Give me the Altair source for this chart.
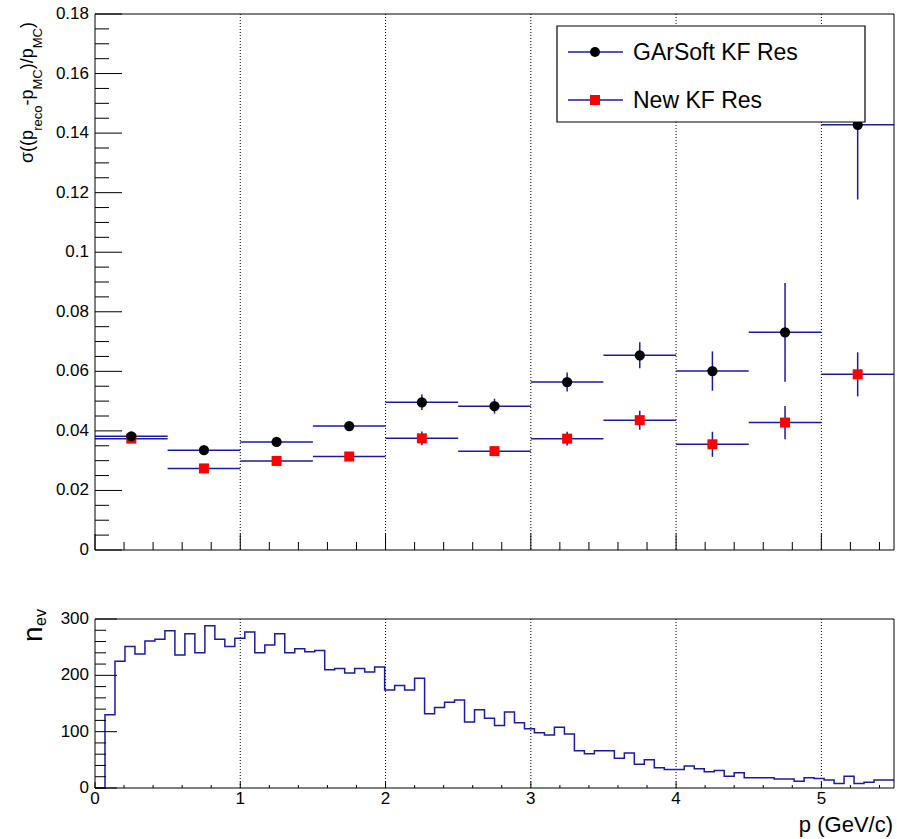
import altair as alt
import pandas as pd

# ---------------- data ----------------
p_center = [0.25, 0.75, 1.25, 1.75, 2.25, 2.75, 3.25, 3.75, 4.25, 4.75, 5.25]
p_halfwidth = 0.25
garsoft_res = [0.0382, 0.0335, 0.0363, 0.0416, 0.0496, 0.0483, 0.0564, 0.0654, 0.0601, 0.0731, 0.1428]
garsoft_err = [0.0010, 0.0010, 0.0010, 0.0012, 0.0026, 0.0025, 0.0032, 0.0044, 0.0066, 0.0166, 0.0251]
newkf_res = [0.0374, 0.0274, 0.0299, 0.0314, 0.0375, 0.0332, 0.0374, 0.0436, 0.0355, 0.0428, 0.0590]
newkf_err = [0.0008, 0.0008, 0.0009, 0.0010, 0.0023, 0.0012, 0.0023, 0.0032, 0.0042, 0.0056, 0.0074]

n_ev = [0, 130, 225, 251, 238, 261, 264, 279, 236, 274,
        240, 288, 264, 251, 266, 277, 240, 254, 274, 240,
        247, 242, 244, 210, 212, 204, 212, 206, 215, 174,
        182, 174, 195, 132, 143, 152, 156, 117, 139, 124,
        111, 135, 116, 105, 98, 94, 108, 96, 66, 61,
        66, 66, 53, 62, 42, 50, 36, 33, 33, 39,
        34, 29, 31, 21, 27, 18, 18, 18, 16, 16,
        12, 18, 17, 14, 8, 21, 8, 10, 14, 14]
x_min, x_max = 0.0, 5.5

top_y_ticks = [0, 0.02, 0.04, 0.06, 0.08, 0.10, 0.12, 0.14, 0.16, 0.18]
top_y_labels = ["0", "0.02", "0.04", "0.06", "0.08", "0.1", "0.12", "0.14", "0.16", "0.18"]
bot_y_ticks = [0, 100, 200, 300]
bot_y_labels = ["0", "100", "200", "300"]
x_major = [0, 1, 2, 3, 4, 5]
x_labels = ["0", "1", "2", "3", "4", "5"]
legend_labels = ["GArSoft KF Res", "New KF Res"]

# ---------------- geometry (pixels) ----------------
W, H = 799, 774
TOP_H = 536
BOT_T, BOT_B = 605, 774
FONT = "Liberation Sans"
BLUE = "#1a1aa8"

n_bins = len(n_ev)
bw = (x_max - x_min) / n_bins
x_minor_top = [round(i * 0.2, 2) for i in range(28) if i % 5 != 0]
top_minor_y = [round(i * 0.005, 3) for i in range(37) if i % 4 != 0]
bot_minor_y = [i * 20 for i in range(16) if i % 5 != 0]

def xs():
    return alt.Scale(domain=[x_min, x_max], nice=False, zero=False)

def yts():
    return alt.Scale(domain=[0, 0.18], range=[TOP_H, 0], nice=False, zero=False)

def ybs():
    return alt.Scale(domain=[0, 300], range=[BOT_B, BOT_T], nice=False, zero=False)

dummy = pd.DataFrame({"a": [0]})

top = pd.DataFrame({
    "p": p_center,
    "lo": [c - p_halfwidth for c in p_center],
    "hi": [c + p_halfwidth for c in p_center],
    "g": garsoft_res,
    "g_lo": [v - e for v, e in zip(garsoft_res, garsoft_err)],
    "g_hi": [v + e for v, e in zip(garsoft_res, garsoft_err)],
    "n": newkf_res,
    "n_lo": [v - e for v, e in zip(newkf_res, newkf_err)],
    "n_hi": [v + e for v, e in zip(newkf_res, newkf_err)],
})

hist = pd.DataFrame({
    "x": [x_min + i * bw for i in range(n_bins)] + [x_max],
    "n": n_ev + [n_ev[-1]],
})

layers = []

# grid lines (dotted) in both panels
grid = pd.DataFrame({"x": [1, 2, 3, 4, 5]})
layers.append(alt.Chart(grid).mark_rule(color="black", strokeWidth=1, strokeDash=[1, 2]).encode(
    x=alt.X("x:Q", scale=xs(), axis=None), y=alt.value(0), y2=alt.value(TOP_H)))
layers.append(alt.Chart(grid).mark_rule(color="black", strokeWidth=1, strokeDash=[1, 2]).encode(
    x=alt.X("x:Q", scale=xs(), axis=None), y=alt.value(BOT_T), y2=alt.value(BOT_B)))

# histogram
layers.append(alt.Chart(hist).mark_line(interpolate="step-after", color=BLUE, strokeWidth=1.5).encode(
    x=alt.X("x:Q", scale=xs(), axis=None),
    y=alt.Y("n:Q", scale=ybs(), axis=None)))

# error bars + markers: New KF (red) first, then GArSoft (black)
for key, lo, hi in [("n", "n_lo", "n_hi"), ("g", "g_lo", "g_hi")]:
    layers.append(alt.Chart(top).mark_rule(color=BLUE, strokeWidth=1.5).encode(
        x=alt.X("lo:Q", scale=xs(), axis=None), x2="hi:Q",
        y=alt.Y(f"{key}:Q", scale=yts(), axis=None)))
    layers.append(alt.Chart(top).mark_rule(color=BLUE, strokeWidth=1.5).encode(
        x=alt.X("p:Q", scale=xs(), axis=None),
        y=alt.Y(f"{lo}:Q", scale=yts(), axis=None), y2=f"{hi}:Q"))
for key, shape, col, size in [("n", "square", "#ff0000", 100), ("g", "circle", "black", 105)]:
    layers.append(alt.Chart(top).mark_point(shape=shape, filled=True, color=col, size=size, opacity=1).encode(
        x=alt.X("p:Q", scale=xs(), axis=None),
        y=alt.Y(f"{key}:Q", scale=yts(), axis=None)))

# ticks (inside) ------------------------------------------------
def xticks(vals, y0, length):
    d = pd.DataFrame({"x": vals})
    return alt.Chart(d).mark_rule(color="black", strokeWidth=1).encode(
        x=alt.X("x:Q", scale=xs(), axis=None), y=alt.value(y0), y2=alt.value(y0 - length))

def yticks(vals, scale, length):
    d = pd.DataFrame({"y": vals})
    return alt.Chart(d).mark_rule(color="black", strokeWidth=1).encode(
        y=alt.Y("y:Q", scale=scale, axis=None), x=alt.value(0), x2=alt.value(length))

layers.append(xticks(x_major, TOP_H, 16))
layers.append(xticks(x_minor_top, TOP_H, 8))
layers.append(yticks(top_y_ticks, yts(), 27))
layers.append(yticks(top_minor_y, yts(), 14))
layers.append(xticks(x_major, BOT_B, 6))
layers.append(xticks(x_minor_top, BOT_B, 3))
layers.append(yticks(bot_y_ticks, ybs(), 22))
layers.append(yticks(bot_minor_y, ybs(), 11))

# frames
layers.append(alt.Chart(dummy).mark_rect(fillOpacity=0, stroke="black", strokeWidth=1).encode(
    x=alt.value(0), x2=alt.value(W), y=alt.value(0), y2=alt.value(TOP_H)))
layers.append(alt.Chart(dummy).mark_rect(fillOpacity=0, stroke="black", strokeWidth=1).encode(
    x=alt.value(0), x2=alt.value(W), y=alt.value(BOT_T), y2=alt.value(BOT_B)))

# tick labels
tl = pd.DataFrame({"y": top_y_ticks, "t": top_y_labels})
layers.append(alt.Chart(tl).mark_text(align="right", baseline="middle", font=FONT, fontSize=17, color="black").encode(
    y=alt.Y("y:Q", scale=yts(), axis=None), x=alt.value(-6), text="t:N"))
bl = pd.DataFrame({"y": bot_y_ticks, "t": bot_y_labels})
layers.append(alt.Chart(bl).mark_text(align="right", baseline="middle", font=FONT, fontSize=17, color="black").encode(
    y=alt.Y("y:Q", scale=ybs(), axis=None), x=alt.value(-6), text="t:N"))
xl = pd.DataFrame({"x": x_major, "t": x_labels})
layers.append(alt.Chart(xl).mark_text(align="center", baseline="top", font=FONT, fontSize=17, color="black").encode(
    x=alt.X("x:Q", scale=xs(), axis=None), y=alt.value(BOT_B + 3), text="t:N"))

# axis titles
def txt(s, x, y, size, angle=0, align="left", baseline="alphabetic"):
    kw = dict(text=s, font=FONT, fontSize=size, color="black", align=align, baseline=baseline)
    if angle:
        kw["angle"] = angle
    return alt.Chart(dummy).mark_text(**kw).encode(x=alt.value(x), y=alt.value(y))

layers.append(txt("p (GeV/c)", W - 1, 818, 22, align="right"))

# rotated y title with subscripts
cw = {"σ": 0.57, "(": 0.333, ")": 0.333, "p": 0.556, "-": 0.333, "/": 0.278,
      "r": 0.333, "e": 0.556, "c": 0.5, "o": 0.556, "M": 0.833, "C": 0.722, "n": 0.556, "v": 0.5}
frags = [("σ((p", 0), ("reco", 1), ("-p", 0), ("MC", 1), (")/p", 0), ("MC", 1), (")", 0)]
MAIN, SUB = 18, 13
ypos = 149
for s, sub in frags:
    size = SUB if sub else MAIN
    xb = -53 if sub else -62
    layers.append(txt(s, xb, ypos, size, angle=270))
    ypos -= sum(cw[c] for c in s) * size

# n_ev title
layers.append(txt("n", -53, 628, 28, angle=270))
layers.append(txt("ev", -49, 612, 16, angle=270))

# legend
layers.append(alt.Chart(dummy).mark_rect(fill="white", stroke="black", strokeWidth=1.2).encode(
    x=alt.value(462), x2=alt.value(770), y=alt.value(12), y2=alt.value(108)))
for i, (lab, shape, col) in enumerate(zip(legend_labels, ["circle", "square"], ["black", "#ff0000"])):
    yy = 38 + 48 * i
    layers.append(alt.Chart(dummy).mark_rule(color=BLUE, strokeWidth=1.5).encode(
        x=alt.value(473), x2=alt.value(528), y=alt.value(yy)))
    layers.append(alt.Chart(dummy).mark_point(shape=shape, filled=True, color=col, size=100, opacity=1).encode(
        x=alt.value(500), y=alt.value(yy)))
    layers.append(txt(lab, 538, yy + 1, 23, baseline="middle"))

chart = alt.layer(*layers).resolve_scale(y="independent").properties(
    width=W, height=H,
    padding={"left": 95, "top": 14, "right": 3, "bottom": 51},
    autosize=alt.AutoSizeParams(type="none"),
).configure_view(strokeWidth=0)

chart.save("out.html", embed_options={"renderer": "svg", "actions": False})
